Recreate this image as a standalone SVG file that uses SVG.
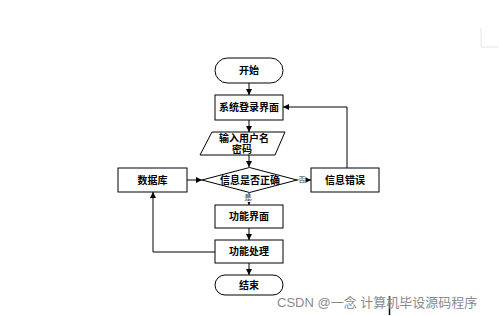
<svg xmlns="http://www.w3.org/2000/svg" width="499" height="316" viewBox="0 0 499 316">
<defs>
<marker id="ah" viewBox="0 0 10 10" refX="10" refY="5" markerWidth="6" markerHeight="6" orient="auto" markerUnits="userSpaceOnUse">
<path d="M0,0 L10,5 L0,10 z" fill="#000"/>
</marker>
</defs>
<style>
.s{fill:#fff;stroke:#000;stroke-width:1}
.t{font-family:"Liberation Serif","Noto Sans CJK SC",serif;font-size:10px;font-weight:bold;fill:#000;text-anchor:middle;dominant-baseline:central}
.l{font-family:"Liberation Serif","Noto Sans CJK SC",serif;font-size:7px;fill:#333;text-anchor:middle;dominant-baseline:central}
.c{fill:none;stroke:#000;stroke-width:1;marker-end:url(#ah)}
.w{font-family:"Liberation Sans","Noto Sans CJK SC",sans-serif;font-size:13px;fill:#8a8a8a}
</style>
<rect width="499" height="316" fill="#fff"/>
<g id="connectors">
<line class="c" x1="249" y1="83" x2="249" y2="95"/>
<line class="c" x1="249" y1="120" x2="249" y2="132"/>
<line class="c" x1="249" y1="155" x2="249" y2="167"/>
<line class="c" x1="187" y1="180" x2="202" y2="180"/>
<line class="c" x1="297" y1="180" x2="311" y2="180"/>
<polyline class="c" points="347,168 347,107 283,107"/>
<line class="c" x1="249" y1="193" x2="249" y2="205"/>
<line class="c" x1="249" y1="228" x2="249" y2="240"/>
<polyline class="c" points="215,252 153,252 153,192"/>
<line class="c" x1="249" y1="263" x2="249" y2="275"/>
<rect x="298.5" y="175.5" width="7" height="8" fill="#fff"/>
<text class="l" x="302" y="179.5">否</text>
<rect x="244.5" y="194" width="7" height="8" fill="#fff"/>
<text class="l" x="248" y="198">是</text>
</g>
<g id="start"><rect class="s" x="215" y="58" width="68" height="25" rx="12.5"/><text class="t" x="249" y="70.5">开始</text></g>
<g id="login"><rect class="s" x="215" y="95" width="68" height="25"/><text class="t" x="249" y="107.5">系统登录界面</text></g>
<g id="input"><polygon class="s" points="212,132 285,132 275,155 200,155"/><text class="t" x="244" y="138">输入用户名</text><text class="t" x="242" y="149">密码</text></g>
<g id="check"><polygon class="s" points="202,180 249.5,167.5 297,180 249.5,192.5"/><text class="t" x="250" y="180">信息是否正确</text></g>
<g id="db"><rect class="s" x="118" y="168" width="69" height="24"/><text class="t" x="152.5" y="180">数据库</text></g>
<g id="error"><rect class="s" x="311" y="168" width="68" height="24"/><text class="t" x="345" y="180">信息错误</text></g>
<g id="func"><rect class="s" x="215" y="205" width="68" height="23"/><text class="t" x="249" y="216.5">功能界面</text></g>
<g id="proc"><rect class="s" x="215" y="240" width="68" height="23"/><text class="t" x="249" y="251.5">功能处理</text></g>
<g id="end"><rect class="s" x="215" y="275" width="68" height="20" rx="10"/><text class="t" x="249" y="285">结束</text></g>
<polyline points="481,28 481,47 498,47" fill="none" stroke="#e6e6e6" stroke-width="1"/>
<line x1="389.5" y1="296" x2="389.5" y2="315" stroke="#000" stroke-width="1.5"/>
<text class="w" x="277" y="307">CSDN @一念 计算机毕设源码程序</text>
</svg>
